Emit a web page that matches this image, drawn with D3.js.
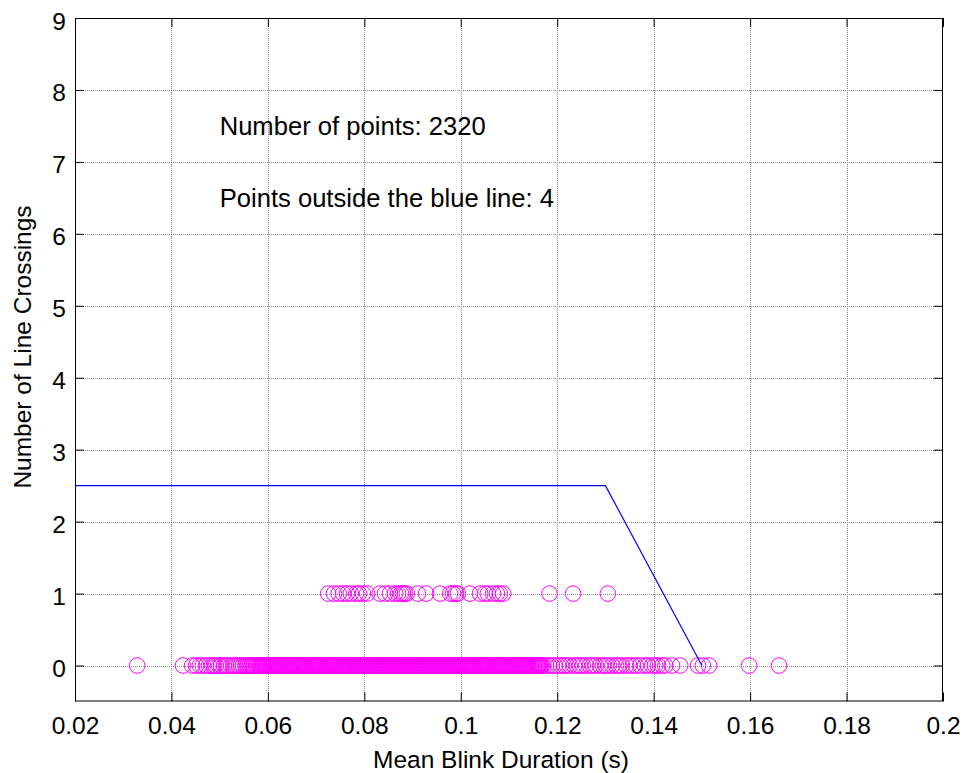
<!DOCTYPE html>
<html>
<head>
<meta charset="utf-8">
<script src="https://cdn.jsdelivr.net/npm/d3@7"></script>
<style>
  html, body { margin: 0; padding: 0; background: #fff; }
  svg { display: block; }
  text { font-family: "Liberation Sans", Arial, Helvetica, sans-serif; fill: #000; }
</style>
</head>
<body>
<svg id="chart" width="966" height="773"></svg>
<script>
// Mean blink duration (s) of windows with zero line crossings
const durationsZeroCrossings = [
  0.0329,0.0424,0.0443,0.0451,0.0459,0.0465,0.0472,0.0478,0.0484,0.0488,
  0.0492,0.0499,0.0503,0.0509,0.0513,0.0517,0.0524,0.0528,0.0532,0.0536,
  0.0540,0.0544,0.0548,0.0553,0.0557,0.0560,0.0563,0.0566,0.0569,0.0572,
  0.0575,0.0577,0.0579,0.0582,0.0584,0.0586,0.0588,0.0590,0.0592,
  0.0594,0.0596,0.0597,0.0599,0.0601,0.0603,0.0605,0.0607,0.0609,0.0611,
  0.0613,0.0615,0.0617,0.0619,0.0620,0.0622,0.0624,0.0626,0.0628,0.0630,
  0.0632,0.0634,0.0636,0.0638,0.0640,0.0642,0.0644,0.0646,0.0648,0.0650,
  0.0651,0.0653,0.0655,0.0657,0.0659,0.0661,0.0663,0.0665,0.0667,0.0669,
  0.0671,0.0673,0.0675,0.0677,0.0679,0.0680,0.0682,0.0684,0.0686,0.0688,
  0.0690,0.0692,0.0694,0.0696,0.0698,0.0700,0.0702,0.0704,0.0706,0.0708,
  0.0710,0.0711,0.0713,0.0715,0.0717,0.0719,0.0721,0.0723,0.0725,0.0727,
  0.0729,0.0731,0.0733,0.0735,0.0737,0.0739,0.0740,0.0742,0.0744,0.0746,
  0.0748,0.0750,0.0752,0.0754,0.0756,0.0758,0.0760,0.0762,0.0764,0.0766,
  0.0768,0.0770,0.0771,0.0773,0.0775,0.0777,0.0779,0.0781,0.0783,0.0785,
  0.0787,0.0789,0.0791,0.0793,0.0795,0.0797,0.0799,0.0800,0.0802,0.0804,
  0.0806,0.0808,0.0810,0.0812,0.0814,0.0816,0.0818,0.0820,0.0822,0.0824,
  0.0826,0.0828,0.0830,0.0831,0.0833,0.0835,0.0837,0.0839,0.0841,0.0843,
  0.0845,0.0847,0.0849,0.0851,0.0853,0.0855,0.0857,0.0859,0.0860,0.0862,
  0.0864,0.0866,0.0868,0.0870,0.0872,0.0874,0.0876,0.0878,0.0880,0.0882,
  0.0884,0.0886,0.0888,0.0890,0.0891,0.0893,0.0895,0.0897,0.0899,0.0901,
  0.0903,0.0905,0.0907,0.0909,0.0911,0.0913,0.0915,0.0917,0.0919,0.0920,
  0.0922,0.0924,0.0926,0.0928,0.0930,0.0932,0.0934,0.0936,0.0938,0.0940,
  0.0942,0.0944,0.0946,0.0948,0.0950,0.0951,0.0953,0.0955,0.0957,0.0959,
  0.0961,0.0963,0.0965,0.0967,0.0969,0.0971,0.0973,0.0975,0.0977,0.0979,
  0.0980,0.0982,0.0984,0.0986,0.0988,0.0990,0.0992,0.0994,0.0996,0.0998,
  0.1000,0.1002,0.1004,0.1006,0.1008,0.1010,0.1011,0.1013,0.1015,0.1017,
  0.1019,0.1021,0.1023,0.1025,0.1027,0.1029,0.1031,0.1033,0.1035,0.1037,
  0.1039,0.1040,0.1042,0.1044,0.1046,0.1048,0.1050,0.1052,0.1054,0.1056,
  0.1058,0.1060,0.1062,0.1064,0.1066,0.1068,0.1070,0.1071,0.1073,0.1075,
  0.1077,0.1079,0.1081,0.1083,0.1085,0.1087,0.1089,0.1091,0.1093,0.1095,
  0.1097,0.1099,0.1100,0.1102,0.1104,0.1106,0.1108,0.1110,0.1112,0.1114,
  0.1116,0.1118,0.1120,0.1122,0.1124,0.1126,0.1128,0.1130,0.1131,0.1133,
  0.1135,0.1137,0.1139,0.1141,0.1143,0.1145,0.1147,0.1149,0.1151,0.1153,
  0.1155,0.1157,0.1159,0.1160,0.1162,0.1164,0.1166,0.1168,
  0.1171,0.1177,0.1183,0.1189,0.1195,0.1202,0.1208,0.1214,0.1220,0.1226,
  0.1235,0.1241,0.1247,0.1253,0.1260,0.1268,0.1274,0.1280,0.1289,0.1295,
  0.1301,0.1307,0.1314,0.1322,0.1328,0.1334,0.1343,0.1349,0.1357,0.1363,
  0.1372,0.1382,0.1388,0.1397,0.1403,0.1409,0.1418,0.1424,0.1438,0.1455,
  0.1492,0.1502,0.1515,0.1598,0.1660
];

// Mean blink duration (s) of windows with one line crossing
const durationsOneCrossing = [
  0.0725,0.0737,0.0747,0.0756,0.0764,0.0772,0.0783,0.0789,0.0797,0.0806,
  0.0832,0.0843,0.0853,0.0864,0.0870,0.0876,0.0880,0.0884,0.0888,0.0911,
  0.0928,0.0957,0.0978,0.0984,0.0990,0.0994,0.1019,0.1040,0.1050,0.1056,
  0.1067,0.1075,0.1081,0.1088,0.1184,0.1233,0.1305
];

// Decision boundary (blue line)
const boundaryX = [0.02, 0.13, 0.15];
const boundaryY = [2.5, 2.5, 0];

const xTicks = [0.02, 0.04, 0.06, 0.08, 0.1, 0.12, 0.14, 0.16, 0.18, 0.2];
const xTickLabels = ["0.02", "0.04", "0.06", "0.08", "0.1", "0.12", "0.14", "0.16", "0.18", "0.2"];
const yTicks = [0, 1, 2, 3, 4, 5, 6, 7, 8, 9];

const annotations = ["Number of points: 2320", "Points outside the blue line: 4"];
const annotationY = [7.5, 6.5];

const svg = d3.select("#chart");
const margin = { left: 75, right: 23, top: 18, bottom: 71.5 };
const W = 966, H = 773;
const x = d3.scaleLinear().domain([0.02, 0.2]).range([margin.left, W - margin.right]);
const y = d3.scaleLinear().domain([-0.5, 9]).range([H - margin.bottom, margin.top]);
const x0 = x.range()[0], x1 = x.range()[1];
const y0 = y.range()[0], y1 = y.range()[1];

svg.append("rect").attr("width", W).attr("height", H).attr("fill", "#fff");

// dotted grid
const grid = svg.append("g").attr("stroke", "#8a8a8a").attr("stroke-width", 1)
  .attr("stroke-dasharray", "1,1").attr("shape-rendering", "crispEdges");
grid.selectAll("line.gx").data(xTicks.slice(1, -1)).join("line")
  .attr("x1", d => Math.round(x(d)) + 0.5).attr("x2", d => Math.round(x(d)) + 0.5)
  .attr("y1", y1).attr("y2", y0);
grid.selectAll("line.gy").data(yTicks).join("line")
  .attr("y1", d => Math.round(y(d)) + 0.5).attr("y2", d => Math.round(y(d)) + 0.5)
  .attr("x1", x0).attr("x2", x1);

// annotations
svg.append("g").selectAll("text").data(annotations).join("text")
  .attr("x", x(0.05))
  .attr("y", (d, i) => y(annotationY[i]))
  .attr("dy", "0.35em")
  .attr("font-size", 25.6)
  .text(d => d);

// scatter markers
const markers = svg.append("g").attr("fill", "none").attr("stroke", "#ff00ff").attr("stroke-width", 1);
markers.selectAll("circle.c0").data(durationsZeroCrossings).join("circle")
  .attr("class", "c0")
  .attr("cx", d => x(d)).attr("cy", y(0)).attr("r", 7.8);
markers.selectAll("circle.c1").data(durationsOneCrossing).join("circle")
  .attr("class", "c1")
  .attr("cx", d => x(d)).attr("cy", y(1)).attr("r", 7.8);

// boundary line
svg.append("path")
  .datum(boundaryX.map((d, i) => [d, boundaryY[i]]))
  .attr("fill", "none").attr("stroke", "#0000ff").attr("stroke-width", 1.2)
  .attr("d", d3.line().x(d => x(d[0])).y(d => y(d[1])));

// axes: bottom/left with labels, top/right with ticks only (ticks inward)
const tickLen = 9;
const fmtX = (d, i) => xTickLabels[i];
const axB = svg.append("g").attr("transform", `translate(0,${y0})`)
  .call(d3.axisBottom(x).tickValues(xTicks).tickFormat(fmtX).tickSize(-tickLen));
const axT = svg.append("g").attr("transform", `translate(0,${y1})`)
  .call(d3.axisTop(x).tickValues(xTicks).tickFormat("").tickSize(-tickLen));
const axL = svg.append("g").attr("transform", `translate(${x0},0)`)
  .call(d3.axisLeft(y).tickValues(yTicks).tickFormat(d3.format("d")).tickSize(-tickLen));
const axR = svg.append("g").attr("transform", `translate(${x1},0)`)
  .call(d3.axisRight(y).tickValues(yTicks).tickFormat("").tickSize(-tickLen));

[axB, axT, axL, axR].forEach(a => {
  a.select(".domain").remove();
  a.selectAll("line").attr("stroke", "#000").attr("stroke-width", 1);
  a.selectAll("text").attr("font-size", 24.5).attr("fill", "#000")
    .style("font-family", "'Liberation Sans', Arial, sans-serif");
});
axB.selectAll("text").attr("dy", null).attr("y", 733.5 - y0);
axL.selectAll("text").attr("dy", null).attr("y", 11).attr("x", -9);

// axis box
svg.append("rect").attr("x", x0 + 0.5).attr("y", y1 + 0.5)
  .attr("width", x1 - x0 - 1).attr("height", y0 - y1 - 1)
  .attr("fill", "none").attr("stroke", "#000").attr("stroke-width", 1);

// axis labels
svg.append("text").attr("x", 501).attr("y", 768)
  .attr("text-anchor", "middle").attr("font-size", 24.5)
  .text("Mean Blink Duration (s)");
svg.append("text").attr("transform", `translate(31,347) rotate(-90)`)
  .attr("text-anchor", "middle").attr("font-size", 24.5)
  .text("Number of Line Crossings");
</script>
</body>
</html>
